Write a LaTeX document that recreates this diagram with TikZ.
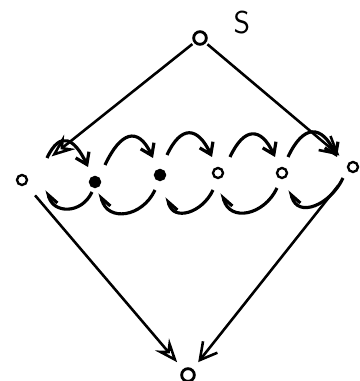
\documentclass[tikz,border=0pt]{standalone}
\usetikzlibrary{arrows.meta}
\tikzset{
    vtx/.style={circle, draw, line width=2pt, inner sep=0pt, minimum size=3mm},
    vtxdark/.style={vtx, fill=black},
    edgearrow/.style={-{Straight Barb[length=5mm,width=5.5mm]}, line width=2.2pt},
    openarrow/.style={-{Stealth[open,length=7mm,width=5.5mm,inset=2.5mm]}, line width=2.2pt},
    fwd/.style={-{Straight Barb[length=3.2mm,width=4.4mm]}, line width=2.7pt,
        out=65, in=115, looseness=1.9},
    bwd/.style={-{Straight Barb[right,length=3mm,width=4mm]}, line width=2.7pt,
        out=-115, in=-75, looseness=1.4},
}
\begin{document}
\begin{tikzpicture}[x=0.3mm, y=0.3mm]
    \useasboundingbox (0,0) rectangle (360,381);
    % vertices
    \node[vtx, minimum size=3.8mm, line width=2.4pt] (s) at (200,343) {};
    \node[font=\sffamily\fontsize{27}{27}\selectfont] (slabel) at (242,358) {S};
    \node[vtx] (L) at (22,201) {};
    \node[vtxdark] (m1) at (95,199) {};
    \node[vtxdark] (m2) at (160,206) {};
    \node[vtx] (m3) at (218,208) {};
    \node[vtx] (m4) at (282,208) {};
    \node[vtx] (R) at (353,214) {};
    \node[vtx, minimum size=3.8mm, line width=2.4pt] (t) at (188,6) {};
    % outer edges
    \draw[openarrow, shorten <=0.6mm, shorten >=9.5mm] (s) -- (L);
    \draw[edgearrow, shorten <=0.6mm, shorten >=3.5mm] (s) -- (R);
    \draw[openarrow, shorten <=4.2mm, shorten >=2.7mm] (L) -- (t);
    \draw[edgearrow, shorten <=5.4mm, shorten >=2.6mm] (R) -- (t);
    % chain, forward on top
    \draw[fwd] ([shift={(25,22)}]L.center) to ([shift={(-7,15)}]m1.center);
    \draw[fwd] ([shift={(10,17)}]m1.center) to ([shift={(-7,17)}]m2.center);
    \draw[fwd] ([shift={(7,20)}]m2.center) to ([shift={(-6,16)}]m3.center);
    \draw[fwd] ([shift={(12,16)}]m3.center) to ([shift={(-7,16)}]m4.center);
    \draw[fwd] ([shift={(6,16)}]m4.center) to ([shift={(-16,10)}]R.center);
    % chain, backward below
    \draw[bwd] ([shift={(-3,-10)}]m1.center) to ([shift={(25,-10)}]L.center);
    \draw[bwd] ([shift={(-5,-15)}]m2.center) to ([shift={(5,-11)}]m1.center);
    \draw[bwd] ([shift={(-5,-17)}]m3.center) to ([shift={(7,-22)}]m2.center);
    \draw[bwd] ([shift={(-5,-15)}]m4.center) to ([shift={(4,-20)}]m3.center);
    \draw[bwd] ([shift={(-10,-11)}]R.center) to ([shift={(8,-17)}]m4.center);
\end{tikzpicture}
\end{document}
